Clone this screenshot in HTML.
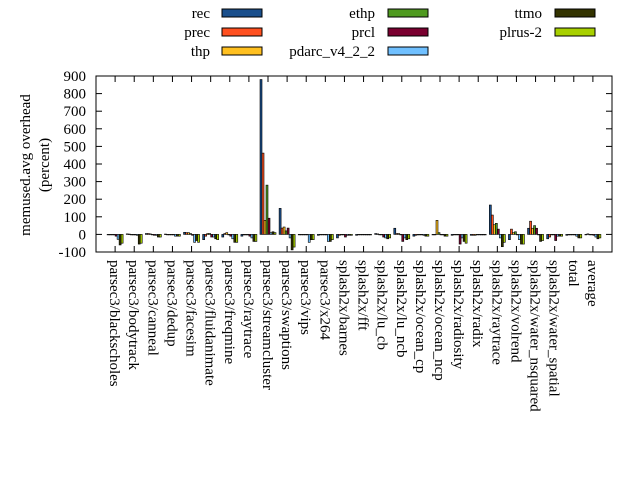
<!DOCTYPE html>
<html><head><meta charset="utf-8"><style>
body{margin:0;background:#fff}
svg{display:block;font-family:"Liberation Serif",serif}
</style></head><body>
<svg id="chart" width="640" height="480" viewBox="0 0 640 480"></svg>
<script>
const categories=["parsec3/blackscholes","parsec3/bodytrack","parsec3/canneal","parsec3/dedup","parsec3/facesim","parsec3/fluidanimate","parsec3/freqmine","parsec3/raytrace","parsec3/streamcluster","parsec3/swaptions","parsec3/vips","parsec3/x264","splash2x/barnes","splash2x/fft","splash2x/lu_cb","splash2x/lu_ncb","splash2x/ocean_cp","splash2x/ocean_ncp","splash2x/radiosity","splash2x/radix","splash2x/raytrace","splash2x/volrend","splash2x/water_nsquared","splash2x/water_spatial","total","average"];
const seriesNames=["rec","prec","thp","ethp","prcl","pdarc_v4_2_2","ttmo","plrus-2"];
const rec=[-2,3,5,2,12,-30,-15,-10,880,148,0,-5,-20,-5,5,35,-10,0,-5,-5,167,-30,35,-25,-5,0];
const prec=[-2,2,5,0,10,-10,5,-3,462,36,0,0,-5,0,3,5,-5,0,0,-5,110,30,75,-15,-3,3];
const thp=[-2,0,3,0,10,5,10,-3,80,42,0,0,0,0,0,5,-3,80,0,-5,55,10,35,0,-3,0];
const ethp=[-3,-3,0,0,5,5,0,-3,280,20,0,0,0,0,0,0,-3,10,0,0,63,15,50,0,0,0];
const prcl=[-10,-3,-5,-2,-5,-15,-10,-10,92,36,0,-3,-15,0,-15,-40,0,0,-55,0,30,0,35,-35,-3,-5];
const pdarc=[-28,-5,-5,-10,-45,-15,-25,-20,10,-20,-45,-40,-5,-3,-20,-20,-5,0,-20,-3,-20,-30,0,-10,-10,-15];
const ttmo=[-60,-55,-15,-10,-35,-25,-45,-40,15,-88,-30,-40,-5,-3,-25,-30,-10,-10,-40,-3,-70,-55,-40,-10,-20,-25];
const plrus=[-50,-50,-15,-10,-45,-30,-45,-40,10,-72,-30,-30,-5,-3,-20,-25,-10,-10,-50,-3,-45,-55,-35,-10,-20,-20];
const yTicks=[-100,0,100,200,300,400,500,600,700,800,900];
const series=[rec,prec,thp,ethp,prcl,pdarc,ttmo,plrus];
const colors=["#1a4f8c","#ff5020","#ffc020","#4f9a20","#7a0030","#70c0ff","#333300","#a8d000"];
const L=96,R=612,T=76,B=252,ymin=-100,ymax=900;
const NS="http://www.w3.org/2000/svg";
const svg=document.getElementById('chart');
function xPos(i){return L+(i+1)*(R-L)/(categories.length+1);}
function yPos(v){return B-(v-ymin)*(B-T)/(ymax-ymin);}
function el(tag,attrs,parent){const e=document.createElementNS(NS,tag);for(const k in attrs)e.setAttribute(k,attrs[k]);(parent||svg).appendChild(e);return e;}
// bars
const bw=2;
series.forEach((s,si)=>{
  const g=el('g',{});
  
  
  s.forEach((v,i)=>{
    const x=xPos(i)-8+si*bw;
    const y0=yPos(0),y1=yPos(v);
    const r=el('rect',{x:x,y:Math.min(y0,y1),width:bw,height:Math.max(Math.abs(y1-y0),0.5),fill:colors[si],stroke:'#000','stroke-width':0.6},g);
    
    
  });
});
// axes frame
const fr=el('rect',{x:L,y:T,width:R-L,height:B-T,fill:'none',stroke:'#000','stroke-width':1});


// y ticks
yTicks.forEach(t=>{
  const y=yPos(t);
  el('line',{x1:L,x2:L+6,y1:y,y2:y,stroke:'#000'});
  el('line',{x1:R,x2:R-6,y1:y,y2:y,stroke:'#000'});
  const tx=el('text',{x:L-10,y:y+5,'text-anchor':'end','font-size':15});
  tx.textContent=t;
  
  
});
// x ticks and labels
categories.forEach((c,i)=>{
  const x=xPos(i);
  el('line',{x1:x,x2:x,y1:B,y2:B-6,stroke:'#000'});
  el('line',{x1:x,x2:x,y1:T,y2:T+6,stroke:'#000'});
  const tx=el('text',{x:0,y:0,'font-size':15,transform:`translate(${x-5},260) rotate(90)`});
  tx.textContent=c;
  
  
});
// y title
const yt=el('text',{'font-size':15,'text-anchor':'middle',transform:'translate(30,165) rotate(-90)'});
yt.textContent='memused.avg overhead';


const yt2=el('text',{'font-size':15,'text-anchor':'middle',transform:'translate(49,165) rotate(-90)'});
yt2.textContent='(percent)';


// legend
const cols=[[210,222],[375,388],[542,555]];
seriesNames.forEach((n,si)=>{
  const c=Math.floor(si/3),r=si%3;
  const y=13+r*19;
  const g=el('g',{});
  
  
  const t=el('text',{x:cols[c][0],y:y+5,'text-anchor':'end','font-size':15},g);
  t.textContent=n;
  el('rect',{x:cols[c][1],y:y-4,width:40,height:8,fill:colors[si],stroke:'#000','stroke-width':1},g);
});
</script>
</body></html>
